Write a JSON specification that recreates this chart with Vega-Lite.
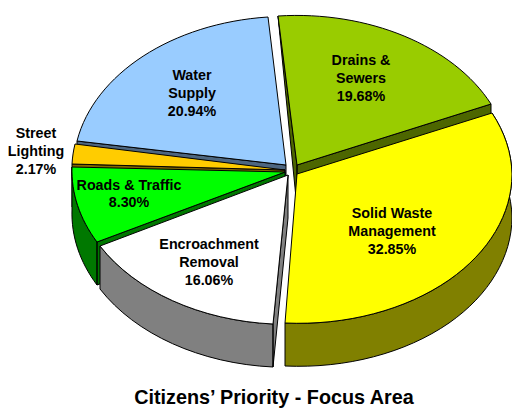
{
  "$schema": "https://vega.github.io/schema/vega-lite/v6.json",
  "width": 512,
  "height": 412,
  "padding": 0,
  "autosize": {"type": "none"},
  "background": "white",
  "view": {"stroke": null},
  "title": {
    "text": "Citizens’ Priority - Focus Area",
    "orient": "bottom",
    "anchor": "middle",
    "frame": "group",
    "offset": -24,
    "dx": 18,
    "font": "Liberation Sans",
    "fontSize": 19.8,
    "fontWeight": "bold",
    "color": "black",
    "baseline": "top"
  },
  "datasets": {
    "slices": [
      {"part": "Drains & Sewers", "share": 19.68, "label": "Drains &\nSewers\n19.68%"},
      {"part": "Water Supply", "share": 20.94, "label": "Water\nSupply\n20.94%"},
      {"part": "Street Lighting", "share": 2.17, "label": "Street\nLighting\n2.17%"},
      {"part": "Roads & Traffic", "share": 8.30, "label": "Roads & Traffic\n8.30%"},
      {"part": "Encroachment Removal", "share": 16.06, "label": "Encroachment\nRemoval\n16.06%"},
      {"part": "Solid Waste Management", "share": 32.85, "label": "Solid Waste\nManagement\n32.85%"}
    ]
  },
  "data": {"name": "slices"},
  "layer": [
    {
      "description": "Side walls of the exploded slices, drawn first so the top faces cover them",
      "mark": {"type": "point", "filled": true, "opacity": 1, "stroke": "black", "strokeWidth": 1},
      "encoding": {
        "x": {"value": 290},
        "y": {"value": 170},
        "size": {"value": 4},
        "shape": {
          "field": "part",
          "type": "nominal",
          "legend": null,
          "scale": {
            "domain": ["Drains & Sewers", "Water Supply", "Street Lighting", "Roads & Traffic", "Encroachment Removal", "Solid Waste Management"],
            "range": [
              "M-12 -154L7 -5L7 38ZM7 -5L201 -66L201 -23L7 38Z",
              "M-213 -29L-4 -5L-4 38L-213 14Z",
              "M-218 -6L-5 0L-5 43L-218 37Z",
              "M-193 72L-5 2L-5 45L-193 115ZM-218 -3A214 152 0 0 0 -193 72L-193 115A214 152 0 0 1 -218 40Z",
              "M-2 5L-17 154L-17 197L-2 48ZM-17 154A214 152 0 0 1 -190 76L-190 119A214 152 0 0 0 -17 197Z",
              "M202 -57A214 150 0 0 1 222 4A214 150 0 0 1 159 110A214 150 0 0 1 -5 153L-5 196A214 150 0 0 0 159 153A214 150 0 0 0 222 47A214 150 0 0 0 202 -14Z"
            ]
          }
        },
        "color": {
          "field": "part",
          "type": "nominal",
          "legend": null,
          "scale": {
            "domain": ["Drains & Sewers", "Water Supply", "Street Lighting", "Roads & Traffic", "Encroachment Removal", "Solid Waste Management"],
            "range": ["#4d6600", "#4d6680", "#806600", "#007800", "#808080", "#808000"]
          }
        }
      }
    },
    {
      "description": "Top faces of the slices",
      "mark": {"type": "point", "filled": true, "opacity": 1, "stroke": "black", "strokeWidth": 1},
      "encoding": {
        "x": {"value": 290},
        "y": {"value": 170},
        "size": {"value": 4},
        "shape": {
          "field": "part",
          "type": "nominal",
          "legend": null,
          "scale": {
            "domain": ["Drains & Sewers", "Water Supply", "Street Lighting", "Roads & Traffic", "Encroachment Removal", "Solid Waste Management"],
            "range": [
              "M7 -5L-12 -154A214 152 0 0 1 201 -66Z",
              "M-4 -5L-213 -29A214 152 0 0 1 -22 -153Z",
              "M-5 0L-218 -6A214 152 0 0 1 -215 -26Z",
              "M-5 2L-193 72A214 152 0 0 1 -218 -3Z",
              "M-2 5L-17 154A214 152 0 0 1 -190 76Z",
              "M7 4L202 -57A214 150 0 0 1 222 4A214 150 0 0 1 159 110A214 150 0 0 1 -5 153Z"
            ]
          }
        },
        "color": {
          "field": "part",
          "type": "nominal",
          "legend": null,
          "scale": {
            "domain": ["Drains & Sewers", "Water Supply", "Street Lighting", "Roads & Traffic", "Encroachment Removal", "Solid Waste Management"],
            "range": ["#99cc00", "#99ccff", "#ffcc00", "#00ff00", "#ffffff", "#ffff00"]
          }
        }
      }
    },
    {
      "transform": [{"filter": "datum.part === 'Drains & Sewers'"}],
      "mark": {"type": "text", "font": "Liberation Sans", "fontSize": 14.3, "fontWeight": "bold", "lineBreak": "\n", "lineHeight": 18, "align": "center", "baseline": "middle", "color": "black"},
      "encoding": {"text": {"field": "label"}, "x": {"value": 361}, "y": {"value": 61}}
    },
    {
      "transform": [{"filter": "datum.part === 'Water Supply'"}],
      "mark": {"type": "text", "font": "Liberation Sans", "fontSize": 14.3, "fontWeight": "bold", "lineBreak": "\n", "lineHeight": 18, "align": "center", "baseline": "middle", "color": "black"},
      "encoding": {"text": {"field": "label"}, "x": {"value": 192}, "y": {"value": 76}}
    },
    {
      "transform": [{"filter": "datum.part === 'Street Lighting'"}],
      "mark": {"type": "text", "font": "Liberation Sans", "fontSize": 14.3, "fontWeight": "bold", "lineBreak": "\n", "lineHeight": 18, "align": "center", "baseline": "middle", "color": "black"},
      "encoding": {"text": {"field": "label"}, "x": {"value": 36}, "y": {"value": 134}}
    },
    {
      "transform": [{"filter": "datum.part === 'Roads & Traffic'"}],
      "mark": {"type": "text", "font": "Liberation Sans", "fontSize": 14.3, "fontWeight": "bold", "lineBreak": "\n", "lineHeight": 17, "align": "center", "baseline": "middle", "color": "black"},
      "encoding": {"text": {"field": "label"}, "x": {"value": 129}, "y": {"value": 186}}
    },
    {
      "transform": [{"filter": "datum.part === 'Encroachment Removal'"}],
      "mark": {"type": "text", "font": "Liberation Sans", "fontSize": 14.3, "fontWeight": "bold", "lineBreak": "\n", "lineHeight": 18, "align": "center", "baseline": "middle", "color": "black"},
      "encoding": {"text": {"field": "label"}, "x": {"value": 209}, "y": {"value": 245}}
    },
    {
      "transform": [{"filter": "datum.part === 'Solid Waste Management'"}],
      "mark": {"type": "text", "font": "Liberation Sans", "fontSize": 14.3, "fontWeight": "bold", "lineBreak": "\n", "lineHeight": 18, "align": "center", "baseline": "middle", "color": "black"},
      "encoding": {"text": {"field": "label"}, "x": {"value": 392}, "y": {"value": 214}}
    }
  ],
  "resolve": {"scale": {"shape": "independent", "color": "independent"}}
}
